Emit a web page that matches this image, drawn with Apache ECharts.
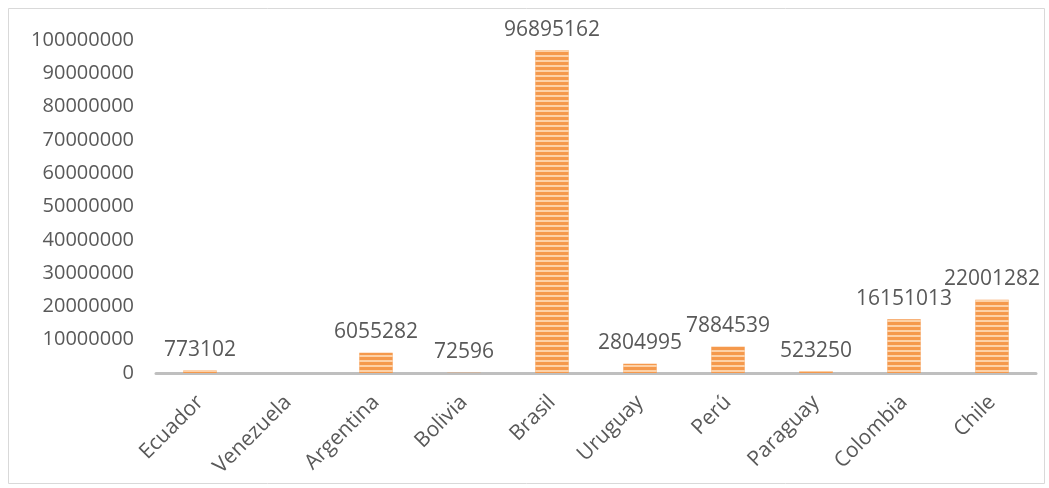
<!DOCTYPE html>
<html>
<head>
<meta charset="utf-8">
<script src="https://cdn.jsdelivr.net/npm/echarts@6/dist/echarts.min.js"></script>
<style>
  html, body { margin: 0; padding: 0; background: #fff; }
  #chart { width: 1049px; height: 488px; }
</style>
</head>
<body>
<div id="chart"></div>
<script>
// Country names along the x axis
const countries = ['Ecuador', 'Venezuela', 'Argentina', 'Bolivia', 'Brasil',
                   'Uruguay', 'Perú', 'Paraguay', 'Colombia', 'Chile'];
// Value per country (Venezuela has no figure)
const values = [773102, null, 6055282, 72596, 96895162,
                2804995, 7884539, 523250, 16151013, 22001282];
// Y axis scale
const yMin = 0;
const yMax = 100000000;
const yStep = 10000000;

const textColor = '#595959';
const fontFamily = '"Open Sans", sans-serif';

const chart = echarts.init(document.getElementById('chart'));
chart.setOption({
  animation: false,
  backgroundColor: '#ffffff',
  graphic: [{
    type: 'rect',
    shape: { x: 8.5, y: 8.5, width: 1036, height: 475 },
    style: { fill: 'none', stroke: '#d9d9d9', lineWidth: 1 },
    silent: true
  }],
  grid: { left: 156, right: 13, top: 40, bottom: 115, containLabel: false },
  xAxis: {
    type: 'category',
    data: countries,
    axisLine: { lineStyle: { color: '#bfbfbf', width: 3 } },
    axisTick: { show: false },
    axisLabel: {
      rotate: 45,
      interval: 0,
      margin: 26,
      color: textColor,
      fontSize: 21,
      fontFamily: fontFamily
    }
  },
  yAxis: {
    type: 'value',
    min: yMin,
    max: yMax,
    interval: yStep,
    axisLine: { show: false },
    axisTick: { show: false },
    splitLine: { show: false },
    axisLabel: {
      margin: 22,
      color: textColor,
      fontSize: 20,
      fontFamily: fontFamily,
      formatter: v => String(v)
    }
  },
  series: [{
    type: 'bar',
    data: values,
    barWidth: '38%',
    itemStyle: {
      color: '#f5994c',
      decal: {
        symbol: 'rect',
        symbolSize: 1,
        dashArrayX: [1, 0],
        dashArrayY: [2, 2.5],
        rotation: 0,
        color: 'rgba(255, 222, 190, 0.8)'
      }
    },
    label: {
      show: true,
      position: 'top',
      distance: 10,
      color: textColor,
      fontSize: 21,
      fontFamily: fontFamily,
      formatter: p => String(p.value)
    }
  }]
});
</script>
</body>
</html>
